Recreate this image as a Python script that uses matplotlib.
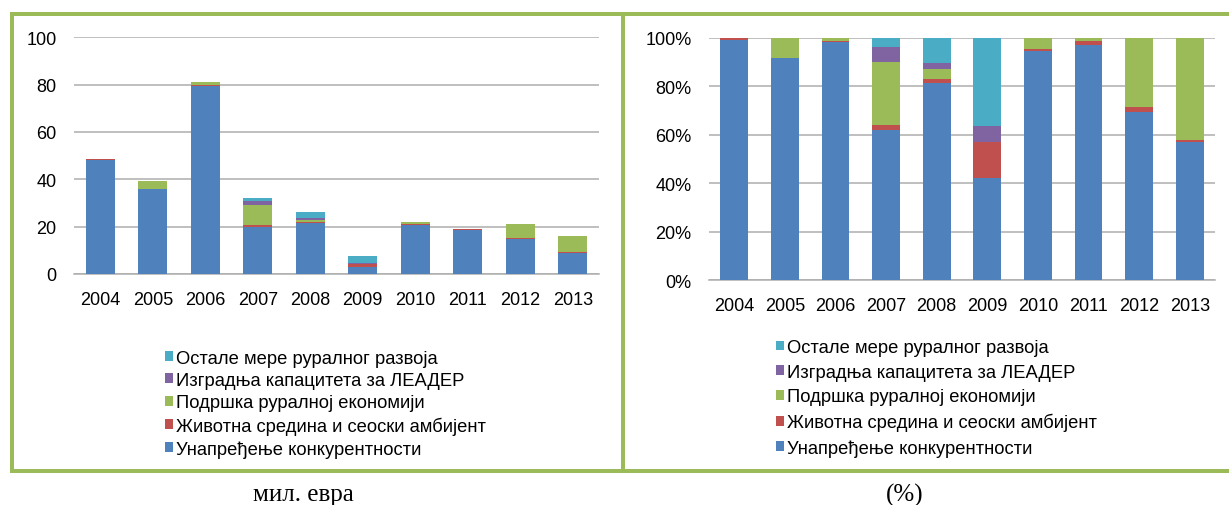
"""Rural development support by measure, 2004-2013 (absolute and share)."""

import matplotlib

matplotlib.use("Agg")
import matplotlib.pyplot as plt
import numpy as np
from matplotlib.lines import Line2D
from matplotlib.patches import Patch
from matplotlib.ticker import FuncFormatter

years = ["2004", "2005", "2006", "2007", "2008", "2009", "2010", "2011", "2012", "2013"]

# мил. евра
competitiveness = [48.2, 35.9, 79.5, 20.0, 21.4, 3.1, 20.7, 18.6, 14.6, 9.0]
environment = [0.4, 0.0, 0.4, 0.7, 0.4, 1.1, 0.25, 0.3, 0.5, 0.15]
rural_economy = [0.0, 3.2, 1.2, 8.4, 1.1, 0.0, 1.0, 0.3, 6.0, 6.7]
leader = [0.0, 0.0, 0.0, 1.9, 0.6, 0.5, 0.0, 0.0, 0.0, 0.0]
other_measures = [0.0, 0.0, 0.0, 1.3, 2.8, 2.7, 0.0, 0.0, 0.0, 0.0]

series_labels = [
    "Унапређење конкурентности",
    "Животна средина и сеоски амбијент",
    "Подршка руралној економији",
    "Изградња капацитета за ЛЕАДЕР",
    "Остале мере руралног развоја",
]
series_colors = ["#4F81BD", "#C0504D", "#9BBB59", "#8064A2", "#4BACC6"]

W, H = 1229, 506
FRAME = "#9BBB59"
GRID = "#ADADAD"
SANS = ["Liberation Sans", "DejaVu Sans"]

plt.rcParams["font.family"] = SANS


def fig_box(left, top, right, bottom):
    """Pixel box (top-left origin) -> figure fraction rect."""
    return [left / W, 1 - bottom / H, (right - left) / W, (bottom - top) / H]


def stacked(ax, data, width):
    x = np.arange(len(years))
    base = np.zeros(len(years))
    for values, color in zip(data, series_colors):
        ax.bar(x, values, width, bottom=base, color=color, linewidth=0, zorder=3)
        base = base + np.asarray(values)
    ax.set_xlim(-0.5, len(years) - 0.5)
    ax.set_xticks(x, years)
    for side in ("left", "right", "top"):
        ax.spines[side].set_visible(False)
    ax.spines["bottom"].set_color(GRID)
    ax.spines["bottom"].set_linewidth(1.1)
    ax.yaxis.grid(True, color=GRID, linewidth=1.1, zorder=0)
    ax.tick_params(axis="both", length=0, labelsize=13, colors="#000000")
    ax.tick_params(axis="y", pad=12.5)
    ax.tick_params(axis="x", pad=12.5)


def add_legend(ax, anchor, spacing):
    handles = [Patch(facecolor=c, edgecolor="none") for c in series_colors][::-1]
    ax.legend(
        handles,
        series_labels[::-1],
        loc="upper left",
        bbox_to_anchor=anchor,
        bbox_transform=fig.transFigure,
        frameon=False,
        fontsize=13.2,
        handlelength=0.45,
        handleheight=0.45,
        handletextpad=0.15,
        labelspacing=spacing,
        borderpad=0,
        borderaxespad=0,
    )


fig = plt.figure(figsize=(W / 100, H / 100), dpi=100)

data = [competitiveness, environment, rural_economy, leader, other_measures]

# left panel: absolute values
ax1 = fig.add_axes(fig_box(74, 38.3, 599, 275))
stacked(ax1, data, 0.56)
ax1.set_ylim(0, 100)
ax1.set_yticks([0, 20, 40, 60, 80, 100])
add_legend(ax1, (165 / W, 1 - 350.5 / H), 0.29)

# right panel: shares
totals = np.sum(data, axis=0)
shares = [np.asarray(v) / totals for v in data]
ax2 = fig.add_axes(fig_box(709, 38.7, 1215, 281))
stacked(ax2, shares, 0.55)
ax2.set_ylim(0, 1)
ax2.set_yticks(np.linspace(0, 1, 6))
ax2.yaxis.set_major_formatter(FuncFormatter(lambda v, _: f"{v:.0%}"))
add_legend(ax2, (776 / W, 1 - 340 / H), 0.42)

# green frames around the two panels
lw = 4 * 72 / 100
for xs, ys in [
    ((12, W), (15, 15)),
    ((12, 12), (15, 472)),
    ((12, W), (472, 472)),
    ((623, 623), (15, 472)),
]:
    fig.add_artist(
        Line2D(
            [x / W for x in xs],
            [1 - y / H for y in ys],
            color=FRAME,
            linewidth=lw,
            solid_capstyle="projecting",
        )
    )

fig.text(303 / W, 1 - 501.5 / H, "мил. евра", ha="center", va="baseline",
         fontsize=18, family=["Liberation Serif", "DejaVu Serif"])
fig.text(905 / W, 1 - 501.5 / H, "(%)", ha="center", va="baseline",
         fontsize=18, family=["Liberation Serif", "DejaVu Serif"])

fig.savefig("out.png", dpi=100)
